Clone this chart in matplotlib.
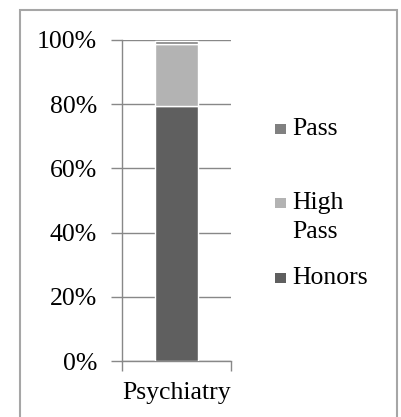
import matplotlib
matplotlib.use("Agg")
import matplotlib.pyplot as plt
from matplotlib.patches import Rectangle

categories = ["Psychiatry"]
honors = [79.4]
high_pass = [19.4]
pass_ = [1.0]
series_names = ["Honors", "High Pass", "Pass"]
legend_labels = ["Pass", "High\nPass", "Honors"]
yticks = [0, 20, 40, 60, 80, 100]
ytick_labels = ["0%", "20%", "40%", "60%", "80%", "100%"]

colors = {"Honors": "#5f5f5f", "High Pass": "#b3b3b3", "Pass": "#808080"}
plt.rcParams['font.family'] = ['Liberation Serif', 'DejaVu Serif']

W, H = 402, 417
FS = 18.5
fig = plt.figure(figsize=(W / 100, H / 100), dpi=100)
ax = fig.add_axes([122 / W, 1 - 361 / H, (231 - 122) / W, (361 - 40) / H])

x = list(range(len(categories)))
bw = 0.394
ax.bar(x, honors, bw, color=colors["Honors"], edgecolor="white", linewidth=1, zorder=3)
ax.bar(x, high_pass, bw, bottom=honors, color=colors["High Pass"], edgecolor="white", linewidth=1, zorder=3)
bottoms = [h + hp for h, hp in zip(honors, high_pass)]
ax.bar(x, pass_, bw, bottom=bottoms, color=colors["Pass"], edgecolor="white", linewidth=1, zorder=3)

ax.set_xlim(-0.5, 0.5)
ax.set_ylim(0, 100)
ax.set_yticks(yticks)
ax.set_yticklabels(ytick_labels, fontsize=FS)
ax.set_xticks([-0.5, 0.5])
ax.set_xticklabels([])
ax.set_xticks(x, minor=True)
ax.set_xticklabels(categories, minor=True, fontsize=FS)
ax.tick_params(axis='x', which='minor', length=0, pad=15)
ax.tick_params(axis='x', which='major', length=7, color="#888888", width=1)
ax.tick_params(axis='y', length=8, color="#888888", width=1, pad=10)
ax.yaxis.grid(True, color="#888888", linewidth=1, zorder=0)
for s in ["top", "right"]:
    ax.spines[s].set_visible(False)
for s in ["left", "bottom"]:
    ax.spines[s].set_color("#888888")
    ax.spines[s].set_linewidth(1)

# legend entries (manual placement like Excel)
handles_colors = [colors["Pass"], colors["High Pass"], colors["Honors"]]
marker_y = [129, 203, 278]
line_gap = 29
for lab, c, my in zip(legend_labels, handles_colors, marker_y):
    fig.patches.append(Rectangle((275 / W, 1 - (my + 5) / H), 10.5 / W, 10.5 / H,
                                 transform=fig.transFigure, facecolor=c, edgecolor="none"))
    for i, line in enumerate(lab.split("\n")):
        fig.text(292 / W, 1 - (my + i * line_gap) / H, line, fontsize=FS,
                 va="center", ha="left")

# outer frame
fig.patches.append(Rectangle((20 / W, -0.05), (397 - 20) / W, 1.05 - 10 / H,
                             transform=fig.transFigure, facecolor="none",
                             edgecolor="#a6a6a6", linewidth=1.5))

fig.savefig("out.png", dpi=100)
